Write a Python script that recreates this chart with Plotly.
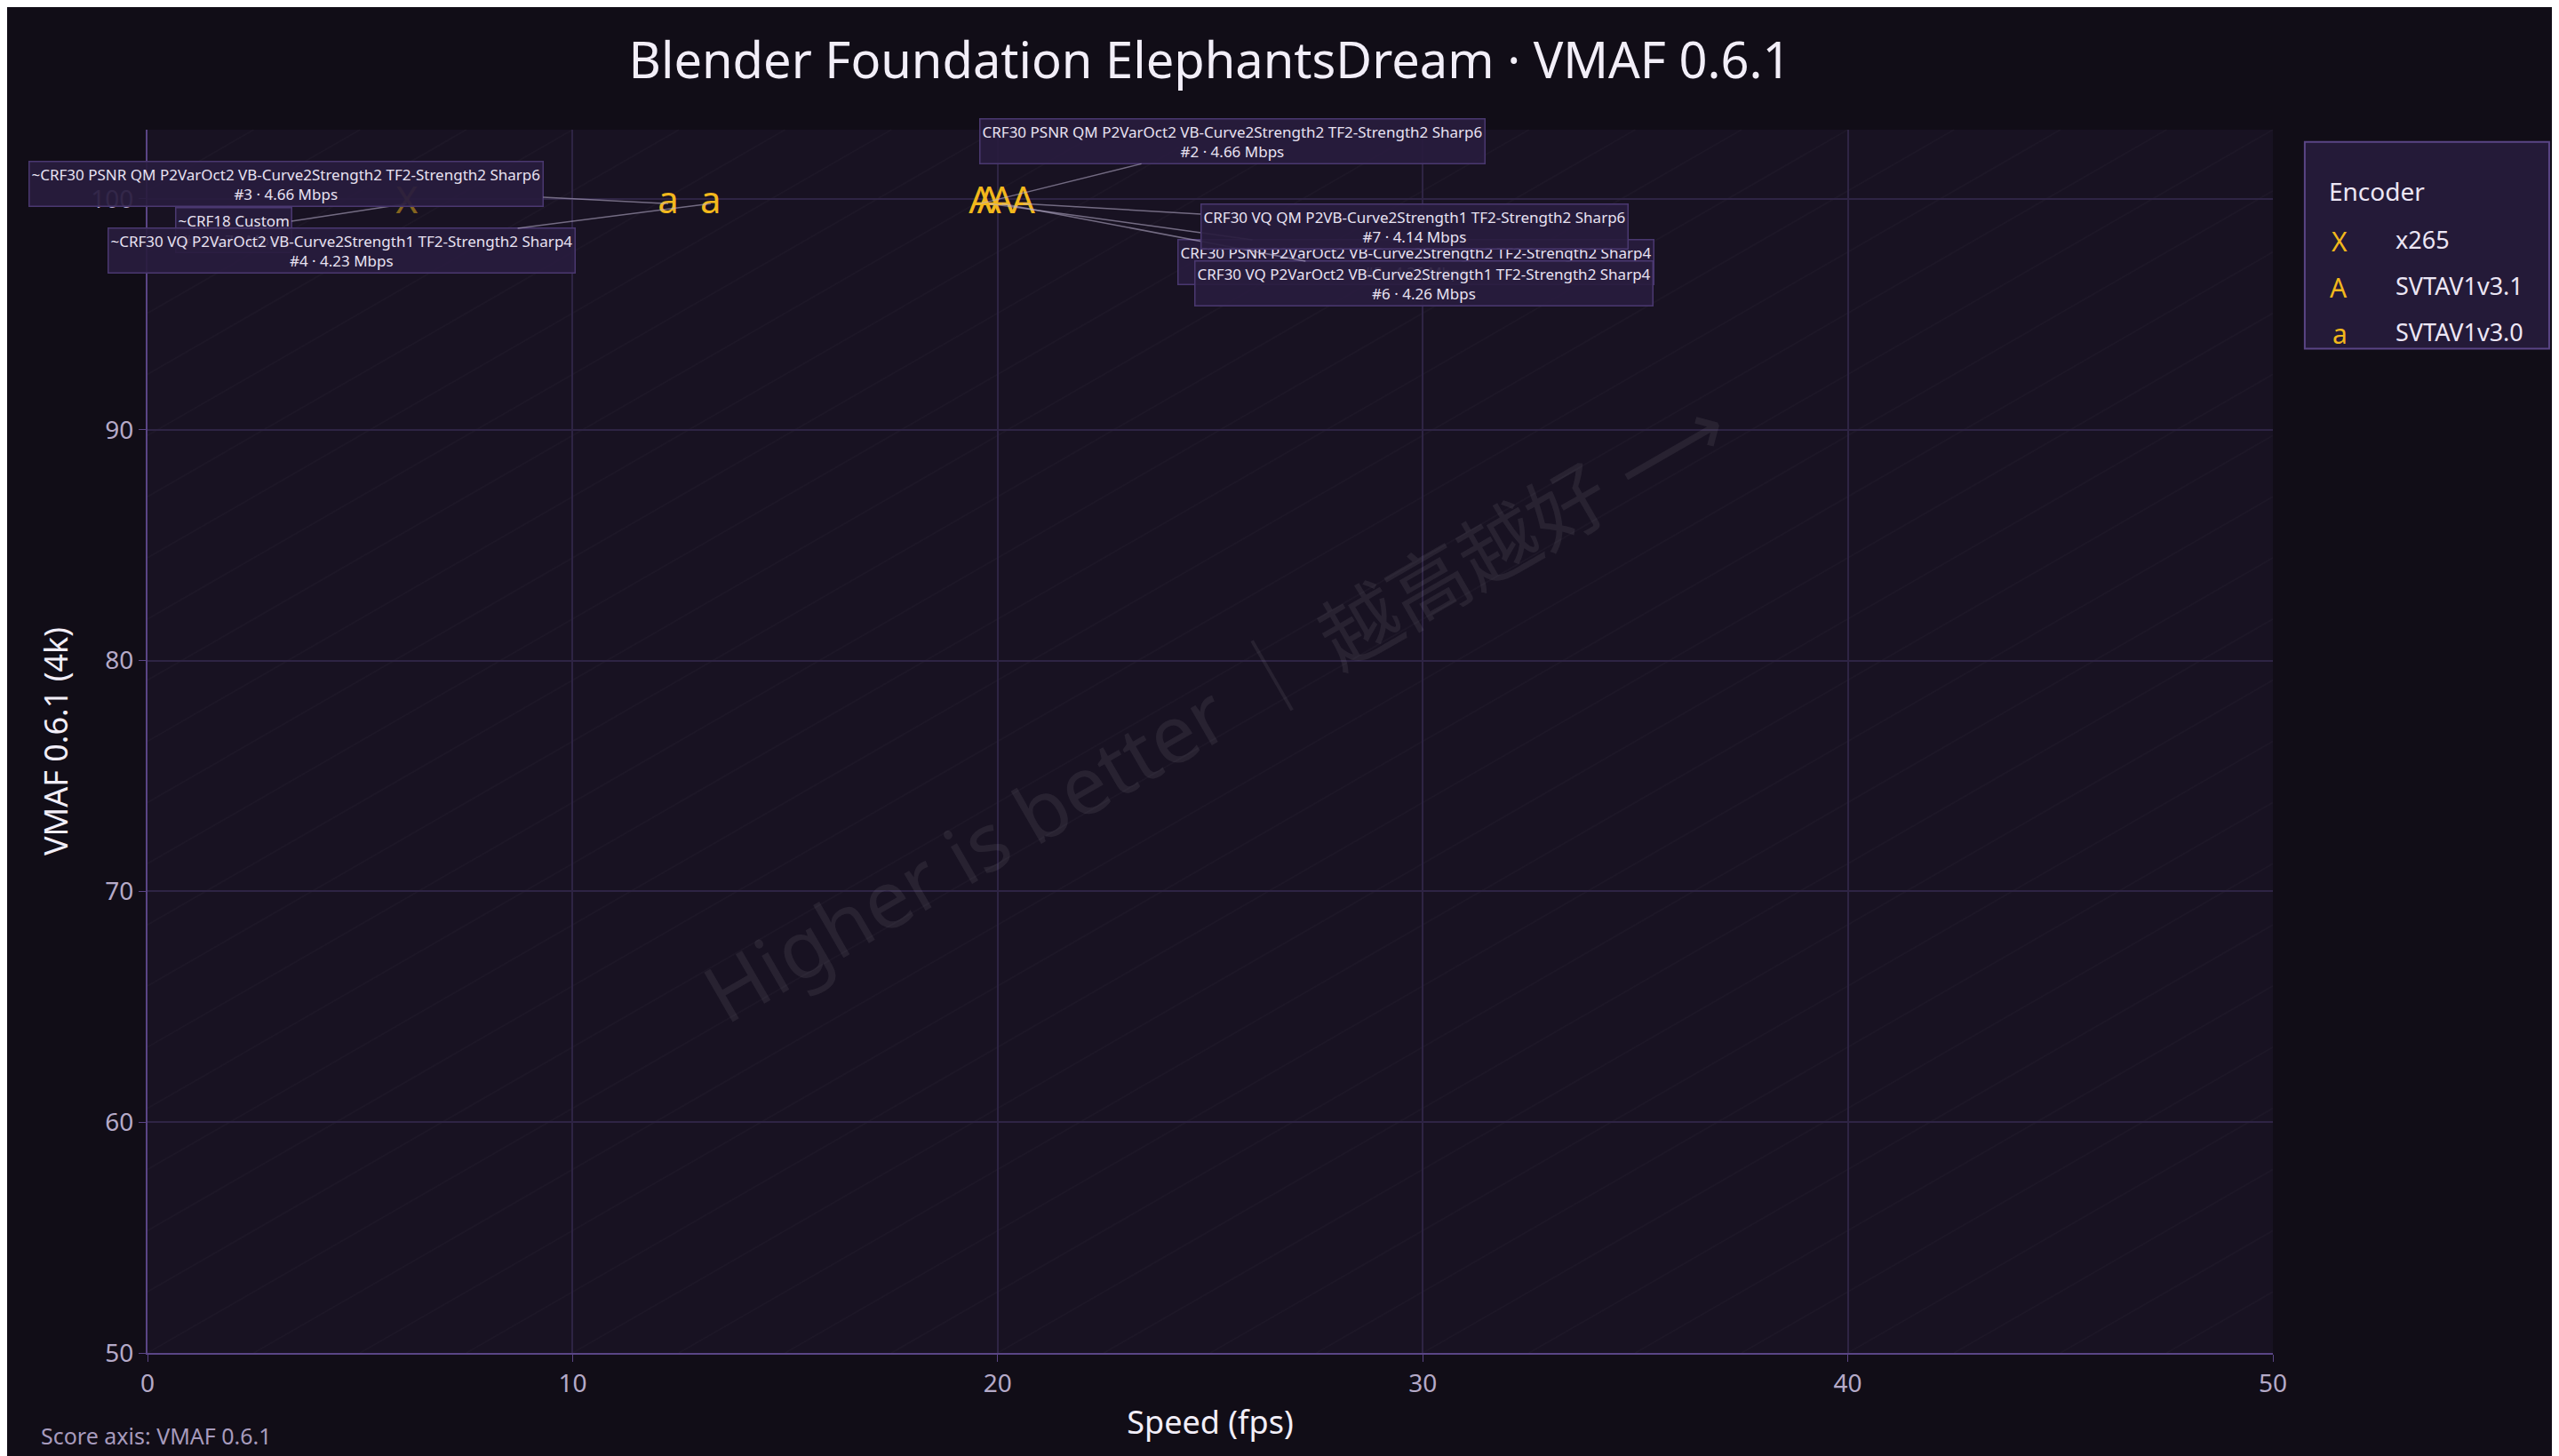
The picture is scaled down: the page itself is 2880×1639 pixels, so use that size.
import plotly.graph_objects as go

encoders = ["x265", "SVTAV1v3.1", "SVTAV1v3.0"]
symbols = ["X", "A", "a"]
speed = {"x265": [6.1], "SVTAV1v3.1": [19.6, 19.8, 20.1, 20.6], "SVTAV1v3.0": [12.25, 13.25]}
vmaf = {"x265": [99.8], "SVTAV1v3.1": [99.8, 99.8, 99.8, 99.8], "SVTAV1v3.0": [99.8, 99.8]}
labels = {
    "x265": ["~CRF18 Custom<br>#1 · 4.70 Mbps"],
    "SVTAV1v3.1": ["CRF30 PSNR QM P2VarOct2 VB-Curve2Strength2 TF2-Strength2 Sharp6<br>#2 · 4.66 Mbps",
                   "CRF30 PSNR P2VarOct2 VB-Curve2Strength2 TF2-Strength2 Sharp4<br>#5 · 4.26 Mbps",
                   "CRF30 VQ P2VarOct2 VB-Curve2Strength1 TF2-Strength2 Sharp4<br>#6 · 4.26 Mbps",
                   "CRF30 VQ QM P2VB-Curve2Strength1 TF2-Strength2 Sharp6<br>#7 · 4.14 Mbps"],
    "SVTAV1v3.0": ["~CRF30 PSNR QM P2VarOct2 VB-Curve2Strength2 TF2-Strength2 Sharp6<br>#3 · 4.66 Mbps",
                   "~CRF30 VQ P2VarOct2 VB-Curve2Strength1 TF2-Strength2 Sharp4<br>#4 · 4.23 Mbps"],
}
offsets = {
    "x265": [(-195, 30)],
    "SVTAV1v3.1": [(283, -70), (480, 66), (475, 90), (440, 26)],
    "SVTAV1v3.0": [(-430, -22), (-415, 53)],
}
x_ticks = [0, 10, 20, 30, 40, 50]
y_ticks = [50, 60, 70, 80, 90, 100]

GOLD = "#f2b81c"
fig = go.Figure()
anns = []
for enc, sym in zip(encoders, symbols):
    fig.add_trace(go.Scatter(
        x=speed[enc], y=vmaf[enc], mode="text", text=[sym] * len(speed[enc]),
        textfont=dict(size=42, color=GOLD, family="Noto Sans"),
        opacity=0.5 if enc == "x265" else 1.0, name=enc, showlegend=False,
        hoverinfo="skip"))
    for xv, yv, lab, (ax, ay) in zip(speed[enc], vmaf[enc], labels[enc], offsets[enc]):
        anns.append(dict(x=xv, y=yv, xref="x", yref="y", text=lab, ax=ax, ay=ay,
                         showarrow=True, arrowhead=0, arrowwidth=1.5, arrowcolor="rgba(190,180,210,0.55)",
                         font=dict(size=17, color="#e8e2f2", family="Noto Sans"),
                         bgcolor="rgba(40,28,62,0.92)", bordercolor="#4a3870", borderwidth=1.5, borderpad=2))

# background diagonal hatch, clipped to plot area
shapes = []
for i in range(-19, 20):
    c = i * 0.05  # line y = x - c in paper units
    x0, x1 = max(0.0, c), min(1.0, 1.0 + c)
    if x1 <= x0:
        continue
    shapes.append(dict(type="line", xref="paper", yref="paper", x0=x0, y0=x0 - c, x1=x1, y1=x1 - c,
                       line=dict(color="rgba(255,255,255,0.025)", width=2), layer="below"))
# legend box
shapes.append(dict(type="rect", xref="paper", yref="paper", x0=1.015, x1=1.130, y0=0.990, y1=0.821,
                   fillcolor="#241a38", line=dict(color="#5a4585", width=2)))
fig.update_layout(shapes=shapes)

anns.append(dict(x=1.0725, y=0.965, xref="paper", yref="paper", text="Encoder", showarrow=False,
                 font=dict(size=28, color="#ece6f5", family="Noto Sans")))
for k, (enc, sym) in enumerate(zip(encoders, symbols)):
    yy = 0.925 - k * 0.0375
    anns.append(dict(x=1.036, y=yy, xref="paper", yref="paper", text=sym, showarrow=False,
                     font=dict(size=30, color=GOLD, family="Noto Sans")))
    anns.append(dict(x=1.057, y=yy, xref="paper", yref="paper", text=enc, showarrow=False, xanchor="left",
                     font=dict(size=27, color="#ece6f5", family="Noto Sans")))

anns.append(dict(x=0.502, y=0.527, xref="paper", yref="paper", text="Higher is better ｜ 越高越好 ⟶",
                 showarrow=False, textangle=-30,
                 font=dict(size=90, color="rgba(255,255,255,0.07)", family="Noto Sans, Noto Sans CJK SC")))
anns.append(dict(x=-0.051, y=-0.081, xref="paper", yref="paper", text="Score axis: VMAF 0.6.1", showarrow=False,
                 xanchor="left", yanchor="bottom", font=dict(size=25, color="#a79bbd", family="Noto Sans")))

fig.update_layout(
    annotations=anns,
    width=2880, height=1639,
    paper_bgcolor="#110d17", plot_bgcolor="#181222",
    margin=dict(l=158, r=330, t=138, b=124),
    title=dict(text="Blender Foundation ElephantsDream · VMAF 0.6.1", x=0.47, xanchor="center", y=0.975,
               font=dict(size=56, color="#f2eef8", family="Noto Sans")),
    xaxis=dict(range=[0, 50], tickvals=x_ticks, title=dict(text="Speed (fps)", font=dict(size=36, color="#f2eef8")),
               gridcolor="#2e2444", gridwidth=2, zeroline=False, showline=True, linecolor="#5a4585", linewidth=2,
               ticks="outside", tickcolor="#5a4585", ticklen=8, tickfont=dict(size=28, color="#b5aac8")),
    yaxis=dict(range=[50, 103], tickvals=y_ticks, title=dict(text="VMAF 0.6.1 (4k)", font=dict(size=36, color="#f2eef8")),
               gridcolor="#2e2444", gridwidth=2, zeroline=False, showline=True, linecolor="#5a4585", linewidth=2,
               ticks="outside", tickcolor="#5a4585", ticklen=8, tickfont=dict(size=28, color="#b5aac8")),
    font=dict(family="Noto Sans"),
)
fig.write_html("out.html")
